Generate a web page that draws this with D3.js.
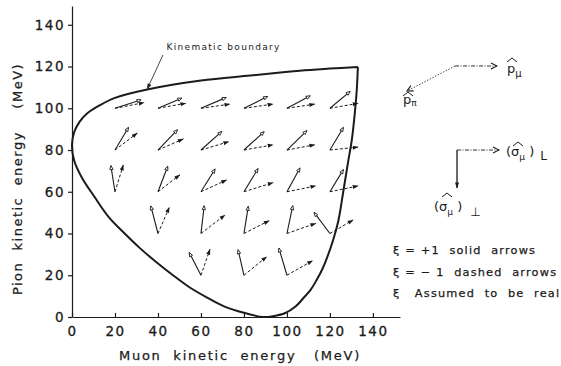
<!DOCTYPE html>
<html>
<head>
<meta charset="utf-8">
<script src="https://cdnjs.cloudflare.com/ajax/libs/d3/7.8.5/d3.min.js"></script>
<style>
body { margin: 0; background: #fff; }
svg { display: block; font-family: "DejaVu Sans", sans-serif; }
</style>
</head>
<body>
<div id="graph"></div>
<script>
// grid points (muon T, pion T), MeV
var muonT = [20, 40, 60, 80, 100, 120,  20, 40, 60, 80, 100, 120,  20, 40, 60, 80, 100, 120,  40, 60, 80, 100, 120,  60, 80, 100];
var pionT = [100, 100, 100, 100, 100, 100,  80, 80, 80, 80, 80, 80,  60, 60, 60, 60, 60, 60,  40, 40, 40, 40, 40,  20, 20, 20];

// xi = +1 (solid) arrow components, MeV
var solidDu = [12.0, 11.0, 11.6, 10.9, 10.7, 9.3,  6.2, 9.0, 9.6, 9.3, 9.2, 6.2,  -1.9, 4.5, 6.5, 6.5, 6.0, 6.2,  -3.3, 1.5, 2.0, 2.7, -7.3,  -5.4, -2.7, -3.7];
var solidDv = [4.0, 4.8, 5.1, 5.6, 5.9, 8.0,  10.7, 9.6, 8.8, 8.7, 9.2, 10.7,  12.4, 12.1, 10.8, 11.0, 11.3, 10.5,  13.1, 13.2, 12.9, 13.2, 10.0,  10.8, 12.1, 12.9];

// xi = -1 (dashed) arrow components, MeV
var dashDu = [13.6, 13.0, 13.5, 13.6, 13.0, 13.2,  10.4, 11.8, 13.0, 13.6, 13.0, 13.2,  3.9, 10.2, 12.0, 13.6, 13.5, 13.2,  5.3, 11.2, 11.8, 13.5, 10.8,  4.2, 10.6, 12.0];
var dashDv = [2.7, 2.4, 2.0, 2.0, 2.0, 2.4,  8.1, 5.3, 4.0, 2.5, 2.5, 1.4,  12.9, 8.1, 5.7, 4.4, 2.8, 2.8,  12.6, 8.9, 6.2, 4.9, 6.5,  12.5, 8.9, 7.0];

// kinematic boundary (starts and ends at the corner)
var boundaryMuon = [133, 120, 106, 83, 60, 35, 20, 13, 7, 3.5, 1, 0,
  1, 4.5, 10.5, 17, 24.5, 31.6, 39, 47, 55, 63.4, 71, 80, 89, 94, 99, 104, 107.6, 111, 113.8, 116.5, 118.5, 121.5, 124, 126.2, 128.4, 130.2, 131.6, 132.5, 133];
var boundaryPion = [119.8, 119, 118, 115.7, 113.3, 109, 105, 101.5, 97.5, 93.5, 88.5, 82.5,
  75, 67, 57.5, 48, 40, 33, 26.5, 20, 14, 9, 5, 2, 0, 0.5, 1.8, 5, 9, 13, 17.7, 23, 28, 36.9, 46.5, 60, 74, 85, 98, 109, 119.8];

var xTicks = [0, 20, 40, 60, 80, 100, 120, 140];
var yTicks = [0, 20, 40, 60, 80, 100, 120, 140];

var ink = "#1b1b1b";
var width = 561, height = 366;

var svg = d3.select("#graph")
	.append("svg")
	.attr("width", width)
	.attr("height", height);

var x = d3.scaleLinear().domain([0, 152.6]).range([72, 400]);
var y = d3.scaleLinear().domain([0, 149]).range([317, 6]);

// markers
var defs = svg.append("defs");
defs.append("marker")
	.attr("id", "openHead")
	.attr("markerUnits", "userSpaceOnUse")
	.attr("viewBox", "-4 -3 8 6")
	.attr("refX", 2).attr("refY", 0)
	.attr("markerWidth", 6).attr("markerHeight", 5)
	.attr("orient", "auto")
	.append("path")
	.attr("d", "M-3,-2.2L2.5,0L-3,2.2Z")
	.attr("fill", "#fff")
	.attr("stroke", ink)
	.attr("stroke-width", 1.1);
defs.append("marker")
	.attr("id", "fillHead")
	.attr("markerUnits", "userSpaceOnUse")
	.attr("viewBox", "-5 -3 8 6")
	.attr("refX", 2).attr("refY", 0)
	.attr("markerWidth", 6.5).attr("markerHeight", 5)
	.attr("orient", "auto")
	.append("path")
	.attr("d", "M-4.8,-2.5L2.5,0L-4.8,2.5Z")
	.attr("fill", ink);
defs.append("marker")
	.attr("id", "vHead")
	.attr("markerUnits", "userSpaceOnUse")
	.attr("viewBox", "-6 -4 8 8")
	.attr("refX", 1).attr("refY", 0)
	.attr("markerWidth", 8).attr("markerHeight", 8)
	.attr("orient", "auto")
	.append("path")
	.attr("d", "M-5,-3L1,0L-5,3")
	.attr("fill", "none")
	.attr("stroke", ink)
	.attr("stroke-width", 1.1);

// axes
var xAxis = d3.axisBottom(x).tickValues(xTicks).tickSizeInner(-4).tickSizeOuter(0).tickPadding(9);
var yAxis = d3.axisLeft(y).tickValues(yTicks).tickSizeInner(4).tickSizeOuter(0).tickPadding(3);

var gx = svg.append("g").attr("transform", "translate(0," + y(0) + ")").call(xAxis);
var gy = svg.append("g").attr("transform", "translate(" + x(0) + ",0)").call(yAxis);
[gx, gy].forEach(function(g) {
	g.selectAll("path, line").attr("stroke", ink).attr("stroke-width", 1.2);
	g.selectAll("text")
		.attr("fill", ink)
		.attr("stroke", ink)
		.attr("stroke-width", 0.3)
		.style("font-size", "13.5px")
		.style("letter-spacing", "1.5px")
		.style("font-family", "DejaVu Sans, sans-serif");
});

// axis titles
svg.append("text")
	.attr("x", 240).attr("y", 360)
	.attr("text-anchor", "middle")
	.attr("fill", ink)
	.attr("stroke", ink).attr("stroke-width", 0.25)
	.style("font-size", "13px")
	.style("letter-spacing", "1.75px")
	.style("white-space", "pre")
	.text("Muon  kinetic  energy   (MeV)");

svg.append("text")
	.attr("transform", "translate(22,179) rotate(-90)")
	.attr("text-anchor", "middle")
	.attr("fill", ink)
	.attr("stroke", ink).attr("stroke-width", 0.25)
	.style("font-size", "13px")
	.style("letter-spacing", "1.5px")
	.style("white-space", "pre")
	.text("Pion  kinetic  energy    (MeV)");

// boundary
var boundary = boundaryMuon.map(function(d, i) { return [d, boundaryPion[i]]; });
svg.append("path")
	.datum(boundary)
	.attr("d", d3.line()
		.x(function(d) { return x(d[0]); })
		.y(function(d) { return y(d[1]); })
		.curve(d3.curveCatmullRom.alpha(0.5)))
	.attr("fill", "none")
	.attr("stroke", ink)
	.attr("stroke-width", 2);

// arrows
var cells = muonT.map(function(d, i) {
	return { u: d, v: pionT[i], su: solidDu[i], sv: solidDv[i], du: dashDu[i], dv: dashDv[i] };
});

svg.selectAll(".solidArrow")
	.data(cells)
	.enter()
	.append("line")
	.attr("class", "solidArrow")
	.attr("x1", function(d) { return x(d.u); })
	.attr("y1", function(d) { return y(d.v); })
	.attr("x2", function(d) { return x(d.u + d.su); })
	.attr("y2", function(d) { return y(d.v + d.sv); })
	.attr("stroke", ink)
	.attr("stroke-width", 1.1)
	.attr("marker-end", "url(#openHead)");

svg.selectAll(".dashArrow")
	.data(cells)
	.enter()
	.append("line")
	.attr("class", "dashArrow")
	.attr("x1", function(d) { return x(d.u); })
	.attr("y1", function(d) { return y(d.v); })
	.attr("x2", function(d) { return x(d.u + d.du); })
	.attr("y2", function(d) { return y(d.v + d.dv); })
	.attr("stroke", ink)
	.attr("stroke-width", 1)
	.attr("stroke-dasharray", "3,2")
	.attr("marker-end", "url(#fillHead)");

// kinematic boundary label
var labelAt = [44, 128];
var leaderFrom = [42.3, 125.5], leaderTo = [35, 109.2];
svg.append("text")
	.attr("x", x(labelAt[0])).attr("y", y(labelAt[1]))
	.attr("fill", ink)
	.style("font-size", "9px")
	.style("letter-spacing", "1.3px")
	.text("Kinematic boundary");
svg.append("line")
	.attr("x1", x(leaderFrom[0])).attr("y1", y(leaderFrom[1]))
	.attr("x2", x(leaderTo[0])).attr("y2", y(leaderTo[1]))
	.attr("stroke", ink)
	.attr("stroke-width", 0.8)
	.attr("marker-end", "url(#fillHead)");

// direction key (top right)
function hat(g, cx, top) {
	g.append("path")
		.attr("d", "M" + (cx - 5) + "," + (top + 4) + "L" + cx + "," + top + "L" + (cx + 5) + "," + (top + 4))
		.attr("fill", "none").attr("stroke", ink).attr("stroke-width", 1);
}
var key = svg.append("g");
key.append("line").attr("x1", 455).attr("y1", 66).attr("x2", 497).attr("y2", 66)
	.attr("stroke", ink).attr("stroke-width", 0.9).attr("stroke-dasharray", "4,1.5,1,1.5")
	.attr("marker-end", "url(#vHead)");
key.append("line").attr("x1", 455).attr("y1", 66).attr("x2", 407).attr("y2", 91)
	.attr("stroke", ink).attr("stroke-width", 0.8).attr("stroke-dasharray", "1.5,1.5")
	.attr("marker-end", "url(#vHead)");
key.append("line").attr("x1", 457).attr("y1", 150).attr("x2", 499).attr("y2", 150)
	.attr("stroke", ink).attr("stroke-width", 0.9).attr("stroke-dasharray", "4,1.5,1,1.5")
	.attr("marker-end", "url(#vHead)");
key.append("line").attr("x1", 457).attr("y1", 150).attr("x2", 457).attr("y2", 188)
	.attr("stroke", ink).attr("stroke-width", 1.3)
	.attr("marker-end", "url(#fillHead)");

var keyText = key.append("g").attr("fill", ink).style("font-size", "13px");
keyText.append("text").attr("x", 507).attr("y", 73).text("p")
	.append("tspan").attr("dy", 4).style("font-size", "10px").text("μ");
hat(key, 512, 58);
keyText.append("text").attr("x", 403).attr("y", 104).text("p")
	.append("tspan").attr("dy", 2).style("font-size", "9px").text("π");
hat(key, 408, 92);
keyText.append("text").attr("x", 506).attr("y", 156).style("white-space", "pre")
	.text("(σ")
	.append("tspan").attr("dy", 4).style("font-size", "9px").text("μ")
	.select(function() { return this.parentNode; })
	.append("tspan").attr("dy", -4).text(" )")
	.select(function() { return this.parentNode; })
	.append("tspan").attr("dy", 4).attr("dx", 6).style("font-size", "12px").text("L");
hat(key, 518, 142);
keyText.append("text").attr("x", 434).attr("y", 211).style("white-space", "pre")
	.text("(σ")
	.append("tspan").attr("dy", 4).style("font-size", "9px").text("μ")
	.select(function() { return this.parentNode; })
	.append("tspan").attr("dy", -4).text(" )")
	.select(function() { return this.parentNode; })
	.append("tspan").attr("dy", 5).attr("dx", 8).style("font-size", "12px").text("⊥");
hat(key, 447, 193);

// xi legend
var legendLines = ["ξ = +1  solid  arrows", "ξ = − 1  dashed  arrows", "ξ   Assumed  to  be  real"];
svg.selectAll(".xiLine")
	.data(legendLines)
	.enter()
	.append("text")
	.attr("class", "xiLine")
	.attr("x", 393)
	.attr("y", function(d, i) { return 254 + i * 21.5; })
	.attr("fill", ink)
	.attr("stroke", ink)
	.attr("stroke-width", 0.25)
	.style("font-size", "11.3px")
	.style("letter-spacing", "1.2px")
	.style("white-space", "pre")
	.text(function(d) { return d; });
</script>
</body>
</html>
